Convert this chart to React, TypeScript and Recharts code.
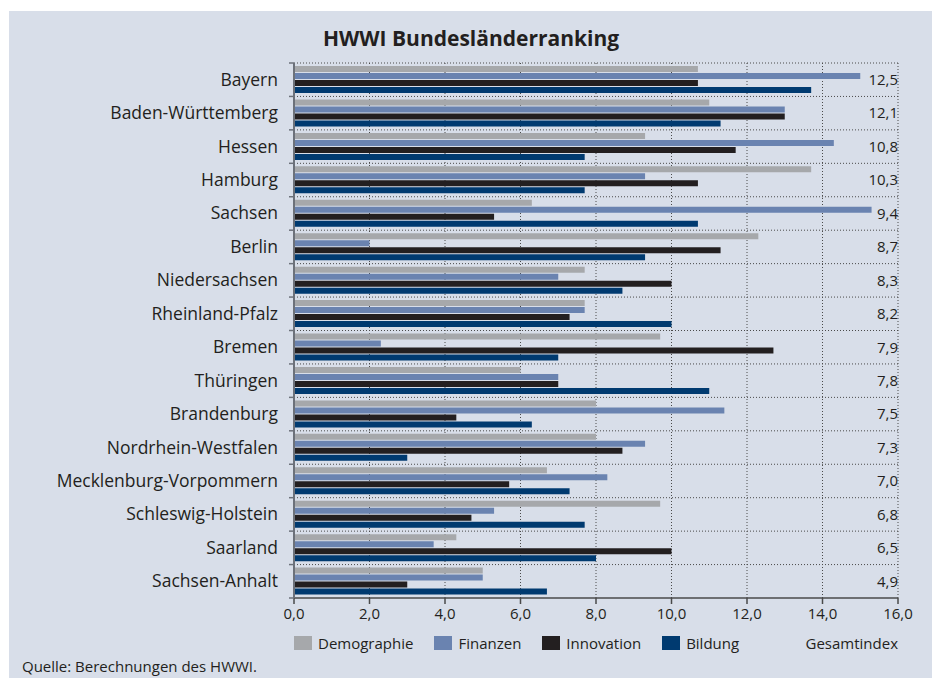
import React from 'react';
import { BarChart, Bar, XAxis, YAxis, CartesianGrid } from 'recharts';

// Bundesländer, sorted by Gesamtindex
const categories = [
  'Bayern', 'Baden-Württemberg', 'Hessen', 'Hamburg', 'Sachsen', 'Berlin',
  'Niedersachsen', 'Rheinland-Pfalz', 'Bremen', 'Thüringen', 'Brandenburg',
  'Nordrhein-Westfalen', 'Mecklenburg-Vorpommern', 'Schleswig-Holstein',
  'Saarland', 'Sachsen-Anhalt',
];
const demographie = [10.7, 11.0, 9.3, 13.7, 6.3, 12.3, 7.7, 7.7, 9.7, 6.0, 8.0, 8.0, 6.7, 9.7, 4.3, 5.0];
const finanzen = [15.0, 13.0, 14.3, 9.3, 15.3, 2.0, 7.0, 7.7, 2.3, 7.0, 11.4, 9.3, 8.3, 5.3, 3.7, 5.0];
const innovation = [10.7, 13.0, 11.7, 10.7, 5.3, 11.3, 10.0, 7.3, 12.7, 7.0, 4.3, 8.7, 5.7, 4.7, 10.0, 3.0];
const bildung = [13.7, 11.3, 7.7, 7.7, 10.7, 9.3, 8.7, 10.0, 7.0, 11.0, 6.3, 3.0, 7.3, 7.7, 8.0, 6.7];
const gesamtindex = ['12,5', '12,1', '10,8', '10,3', '9,4', '8,7', '8,3', '8,2', '7,9', '7,8', '7,5', '7,3', '7,0', '6,8', '6,5', '4,9'];
const xTicks = [0, 2, 4, 6, 8, 10, 12, 14, 16];

const data = categories.map((name, i) => ({
  name,
  gesamt: gesamtindex[i],
  demographie: demographie[i],
  finanzen: finanzen[i],
  innovation: innovation[i],
  bildung: bildung[i],
}));

const FONT = '"Open Sans", "DejaVu Sans", sans-serif';
const TEXT = '#231f20';
const BG = '#d8dee9';

const series = [
  { key: 'demographie', label: 'Demographie', color: '#a6a8ab' },
  { key: 'finanzen', label: 'Finanzen', color: '#6a83b0' },
  { key: 'innovation', label: 'Innovation', color: '#231f20' },
  { key: 'bildung', label: 'Bildung', color: '#003a70' },
];

const W = 934;
const H = 684;
const X_AXIS_H = 30;
const margin = { top: 63, right: 36, left: 0, bottom: 56 };
const plotH = H - margin.top - margin.bottom - X_AXIS_H;
const band = plotH / categories.length;

// category label plus a small tick at the upper band boundary
const CategoryTick = (props: any) => {
  const { x, y, payload } = props;
  const ax = x + 16;
  return (
    <g>
      <text x={x} y={y} dy={6} textAnchor="end" fontSize={17.5} fill={TEXT} fontFamily={FONT}>
        {payload.value}
      </text>
      <line x1={ax - 5} x2={ax} y1={y - band / 2} y2={y - band / 2} stroke="#6c717a" strokeWidth={1.5} />
      {payload.index === categories.length - 1 && (
        <line x1={ax - 5} x2={ax} y1={y + band / 2} y2={y + band / 2} stroke="#6c717a" strokeWidth={1.5} />
      )}
    </g>
  );
};

const LegendRow = () => (
  <div
    style={{
      position: 'absolute', left: 294, top: 633, width: 604, display: 'flex', alignItems: 'center',
      fontFamily: FONT, fontSize: 15, color: TEXT,
    }}
  >
    {series.map((s) => (
      <div key={s.key} style={{ display: 'flex', alignItems: 'center', marginRight: 21 }}>
        <span style={{ width: 18, height: 14, background: s.color, display: 'inline-block', marginRight: 6 }} />
        {s.label}
      </div>
    ))}
    <div style={{ marginLeft: 'auto' }}>Gesamtindex</div>
  </div>
);

export default function App() {
  return (
    <div style={{ position: 'absolute', left: 0, top: 0, width: W, height: H, background: '#fff' }}>
      <div style={{ position: 'absolute', left: 9, top: 11, width: 923, height: 667, background: BG }} />
      <div
        style={{
          position: 'absolute', left: 0, width: W, top: 24, textAlign: 'center', paddingLeft: 8,
          fontFamily: FONT, fontWeight: 700, fontSize: 21, color: TEXT, boxSizing: 'border-box',
        }}
      >
        HWWI Bundesländerranking
      </div>
      <div style={{ position: 'absolute', left: 22, top: 656, fontFamily: FONT, fontSize: 15, color: TEXT }}>
        Quelle: Berechnungen des HWWI.
      </div>
      <div style={{ position: 'absolute', left: 0, top: 0 }}>
        <BarChart
          width={W}
          height={H}
          data={data}
          layout="vertical"
          margin={margin}
          barCategoryGap={3}
          barGap={1}
        >
          <CartesianGrid
            stroke="#4a4a4a"
            strokeDasharray="1 2"
            horizontalCoordinatesGenerator={({ offset }: any) =>
              Array.from({ length: categories.length }, (_, i) => offset.top + (i * offset.height) / categories.length)
            }
          />
          <XAxis
            type="number"
            domain={[0, 16]}
            ticks={xTicks}
            interval={0}
            height={X_AXIS_H}
            tickFormatter={(v: number) => v.toFixed(1).replace('.', ',')}
            tick={{ fontSize: 15, fill: TEXT, fontFamily: FONT }}
            tickSize={6}
            tickMargin={4}
            axisLine={{ stroke: '#4a4a4a', strokeWidth: 1.5 }}
            tickLine={{ stroke: '#4a4a4a', strokeWidth: 1.5 }}
          />
          <YAxis
            yAxisId="left"
            type="category"
            dataKey="name"
            width={294}
            interval={0}
            tickSize={0}
            tickMargin={16}
            tick={<CategoryTick />}
            axisLine={{ stroke: '#6c717a', strokeWidth: 2 }}
            tickLine={false}
          />
          <YAxis
            yAxisId="right"
            type="category"
            dataKey="gesamt"
            orientation="right"
            mirror
            interval={0}
            tickSize={0}
            tickMargin={0}
            tick={{ fontSize: 15, fill: TEXT, fontFamily: FONT }}
            axisLine={false}
            tickLine={false}
          />
          {series.map((s) => (
            <Bar
              key={s.key}
              yAxisId="left"
              dataKey={s.key}
              name={s.label}
              fill={s.color}
              isAnimationActive={false}
            />
          ))}
        </BarChart>
      </div>
      <LegendRow />
    </div>
  );
}
